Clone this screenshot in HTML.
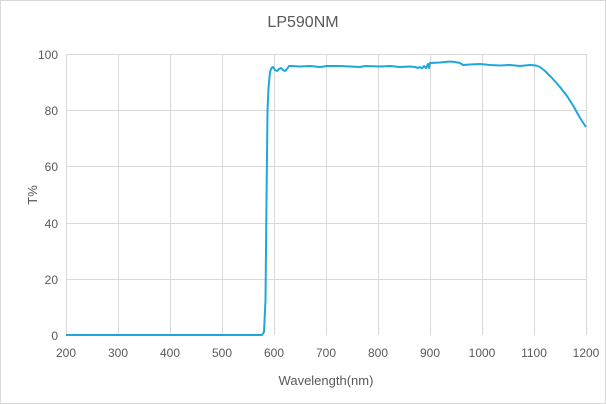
<!DOCTYPE html>
<html><head><style>
body{margin:0;background:#fff}
svg{display:block;font-family:"Liberation Sans",sans-serif}
</style></head><body>
<svg width="606" height="404" viewBox="0 0 606 404">
<rect x="0.5" y="0.5" width="605" height="403" fill="#fff" stroke="#d9d9d9"/>
<text x="303" y="27" text-anchor="middle" font-size="16" fill="#595959">LP590NM</text>
<g stroke="#d9d9d9" stroke-width="1">
<line x1="66" y1="54.5" x2="586" y2="54.5"/>
<line x1="66" y1="110.5" x2="586" y2="110.5"/>
<line x1="66" y1="166.5" x2="586" y2="166.5"/>
<line x1="66" y1="223.5" x2="586" y2="223.5"/>
<line x1="66" y1="279.5" x2="586" y2="279.5"/>
<line x1="66.5" y1="54" x2="66.5" y2="335"/>
<line x1="118.5" y1="54" x2="118.5" y2="335"/>
<line x1="170.5" y1="54" x2="170.5" y2="335"/>
<line x1="222.5" y1="54" x2="222.5" y2="335"/>
<line x1="274.5" y1="54" x2="274.5" y2="335"/>
<line x1="326.5" y1="54" x2="326.5" y2="335"/>
<line x1="378.5" y1="54" x2="378.5" y2="335"/>
<line x1="430.5" y1="54" x2="430.5" y2="335"/>
<line x1="482.5" y1="54" x2="482.5" y2="335"/>
<line x1="534.5" y1="54" x2="534.5" y2="335"/>
<line x1="586.5" y1="54" x2="586.5" y2="335"/>
</g>
<g font-size="12" fill="#595959" text-anchor="end">
<text x="58" y="59">100</text><text x="58" y="115">80</text><text x="58" y="171">60</text>
<text x="58" y="228">40</text><text x="58" y="284">20</text><text x="58" y="340">0</text>
</g>
<g font-size="12" fill="#595959" text-anchor="middle">
<text x="66" y="357">200</text><text x="118" y="357">300</text><text x="170" y="357">400</text>
<text x="222" y="357">500</text><text x="274" y="357">600</text><text x="326" y="357">700</text>
<text x="378" y="357">800</text><text x="430" y="357">900</text><text x="482" y="357">1000</text>
<text x="534" y="357">1100</text><text x="586" y="357">1200</text>
</g>
<text x="326" y="385" text-anchor="middle" font-size="13" fill="#595959">Wavelength(nm)</text>
<text transform="translate(37,195) rotate(-90)" text-anchor="middle" font-size="13" fill="#595959">T%</text>
<path d="M66,335 L262,335 L264,332 L265.5,300 L266.5,200 L267.5,110 L268.5,88 L270,72 L271.5,68 L273,67 L275,70 L277,71 L279,69 L281,68 L283,70 L285,71 L287,69 L289,66 L292,66 L300,66.5 L310,66 L320,67 L327,66 L340,66 L350,66.5 L360,67 L365,66 L380,66.5 L390,66 L400,67 L410,66.5 L415,67 L418,68 L420,67 L422,68.5 L424,66 L426,68 L428,64 L429,68 L430,63 L440,62.5 L450,61.5 L455,62 L460,63 L463,65 L470,64.5 L480,64 L490,65 L500,65.5 L510,65 L520,66 L530,65 L536,65.5 L540,67 L545,71 L552,78 L560,87 L567,96 L574,107 L580,118 L586,127" fill="none" stroke="#1fa7dc" stroke-width="2" stroke-linejoin="round"/>
</svg>
</body></html>
